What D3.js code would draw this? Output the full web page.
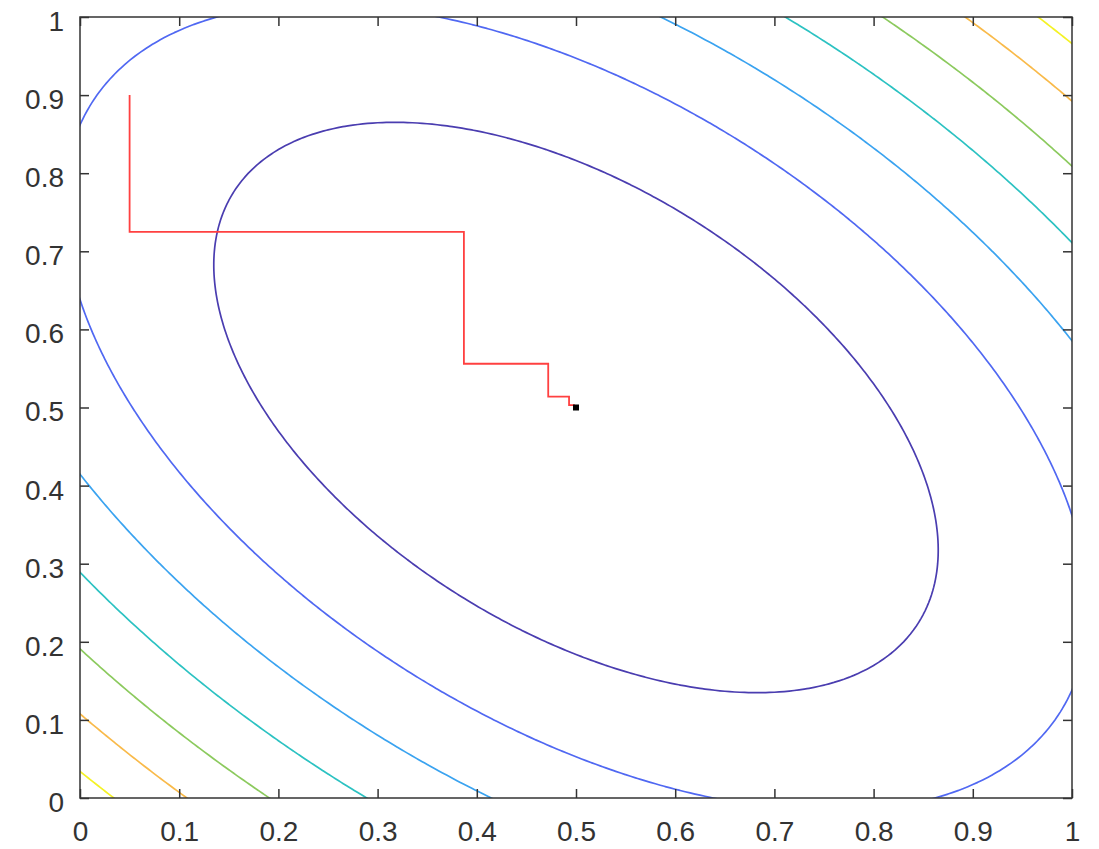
<!DOCTYPE html>
<html>
<head>
<meta charset="utf-8">
<script src="https://cdn.jsdelivr.net/npm/d3@7"></script>
<style>
  body { margin: 0; background: #fff; }
  .tick text { font-family: "Liberation Sans", Arial, sans-serif; font-size: 28px; fill: #333; }
</style>
</head>
<body>
<div id="chart"></div>
<script>
var svgWidth = 1099;
var svgHeight = 849;

var margin = { top: 17, right: 27, bottom: 51, left: 80 };
var width = svgWidth - margin.left - margin.right;
var height = svgHeight - margin.top - margin.bottom;

// quadratic bowl f = a*u^2 + b*u*v + c*v^2, u = x - cx, v = y - cy
var quadCoef = [1, 1, 1];
var center = [0.5, 0.5];

// contour levels and their colours (parula-like)
var levels = [0.1, 0.2, 0.3, 0.4, 0.5, 0.6, 0.7];
var levelColors = ["#4a3db0", "#5068f2", "#3aa3f0", "#2cc2c2", "#8cca5e", "#f9ba4a", "#f4f226"];

// coordinate-descent path (red)
var pathX = [0.05, 0.05, 0.387, 0.387, 0.472, 0.472, 0.493, 0.493, 0.498, 0.498, 0.5];
var pathY = [0.9, 0.725, 0.725, 0.556, 0.556, 0.514, 0.514, 0.503, 0.503, 0.501, 0.5];

var xTicks = [0, 0.1, 0.2, 0.3, 0.4, 0.5, 0.6, 0.7, 0.8, 0.9, 1];
var yTicks = [0, 0.1, 0.2, 0.3, 0.4, 0.5, 0.6, 0.7, 0.8, 0.9, 1];

var svg = d3.select("#chart").append("svg")
  .attr("width", svgWidth)
  .attr("height", svgHeight);

var chartGroup = svg.append("g")
  .attr("transform", `translate(${margin.left}, ${margin.top})`);

var xScale = d3.scaleLinear().domain([0, 1]).range([0, width]);
var yScale = d3.scaleLinear().domain([0, 1]).range([height, 0]);

chartGroup.append("clipPath").attr("id", "clip")
  .append("rect").attr("width", width).attr("height", height);

// sample the field on a grid a bit larger than the axes so the boundary edges get clipped
var n = 241, g0 = -0.1, step = 1.2 / (n - 1);
var grid = new Array(n * n);
for (var j = 0; j < n; j++) {
  for (var i = 0; i < n; i++) {
    var u = g0 + i * step - center[0];
    var v = g0 + j * step - center[1];
    grid[i + j * n] = quadCoef[0] * u * u + quadCoef[1] * u * v + quadCoef[2] * v * v;
  }
}

var contours = d3.contours().size([n, n]).thresholds(levels)(grid);

var proj = d3.geoTransform({
  point: function(x, y) {
    this.stream.point(xScale(g0 + (x - 0.5) * step), yScale(g0 + (y - 0.5) * step));
  }
});
var geoPath = d3.geoPath(proj);

chartGroup.append("g")
  .attr("clip-path", "url(#clip)")
  .selectAll("path")
  .data(contours)
  .enter()
  .append("path")
  .attr("d", geoPath)
  .attr("fill", "none")
  .attr("stroke", (d, i) => levelColors[i])
  .attr("stroke-width", 1.7);

// red path
var line = d3.line()
  .x(d => xScale(d[0]))
  .y(d => yScale(d[1]));

chartGroup.append("path")
  .datum(pathX.map((x, i) => [x, pathY[i]]))
  .attr("d", line)
  .attr("fill", "none")
  .attr("stroke", "#ff4040")
  .attr("stroke-width", 1.8);

// minimum marker
chartGroup.append("rect")
  .attr("x", xScale(center[0]) - 3)
  .attr("y", yScale(center[1]) - 3)
  .attr("width", 6)
  .attr("height", 6)
  .attr("fill", "#000");

// axes with inward ticks on all four sides
var axisColor = "#333";

function styleAxis(g) {
  g.select(".domain").remove();
  g.selectAll(".tick line").attr("stroke", axisColor).attr("stroke-width", 1.5);
}

chartGroup.append("g")
  .attr("transform", `translate(0, ${height})`)
  .call(d3.axisBottom(xScale).tickValues(xTicks).tickFormat(d3.format("")).tickSizeInner(-9).tickSizeOuter(0).tickPadding(23))
  .call(styleAxis)
  .selectAll("text").attr("dy", "0.71em");

chartGroup.append("g")
  .call(d3.axisLeft(yScale).tickValues(yTicks).tickFormat(d3.format("")).tickSizeInner(-9).tickSizeOuter(0).tickPadding(16))
  .call(styleAxis)
  .selectAll("text").attr("dy", "0.48em");

chartGroup.append("g")
  .call(d3.axisTop(xScale).tickValues(xTicks).tickFormat("").tickSizeInner(-9).tickSizeOuter(0))
  .call(styleAxis);

chartGroup.append("g")
  .attr("transform", `translate(${width}, 0)`)
  .call(d3.axisRight(yScale).tickValues(yTicks).tickFormat("").tickSizeInner(-9).tickSizeOuter(0))
  .call(styleAxis);

chartGroup.append("rect")
  .attr("width", width)
  .attr("height", height)
  .attr("fill", "none")
  .attr("stroke", axisColor)
  .attr("stroke-width", 1.5);
</script>
</body>
</html>
